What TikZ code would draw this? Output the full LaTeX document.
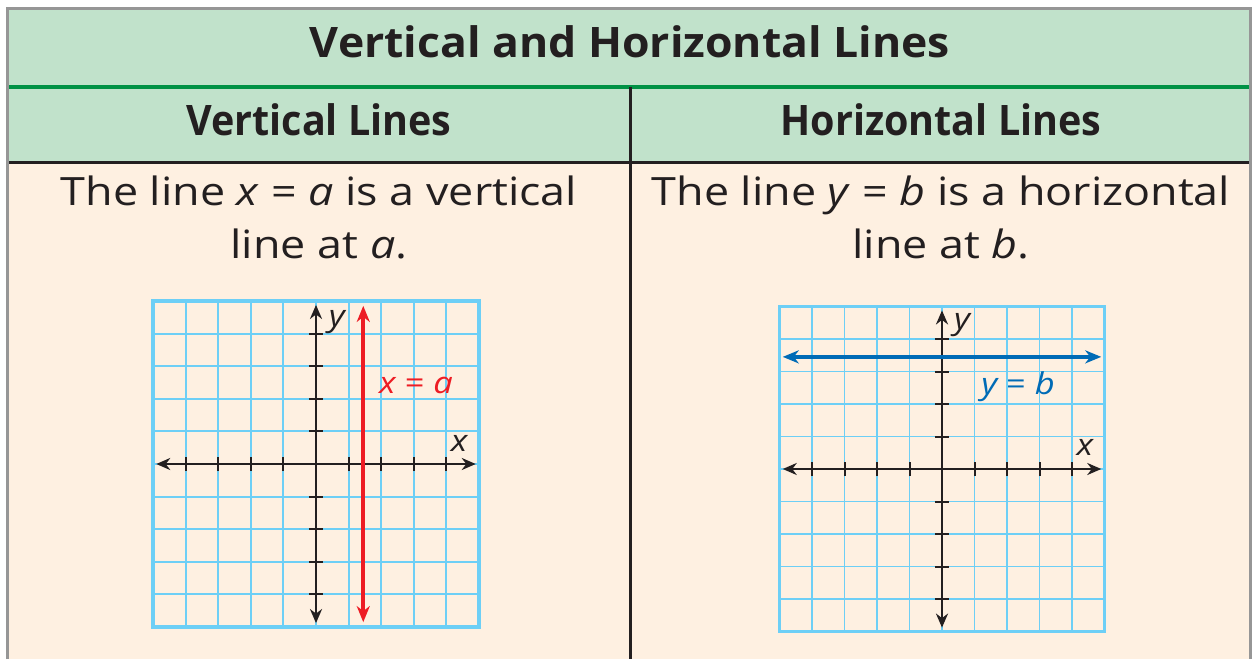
\documentclass[tikz,border=0pt]{standalone}
\usepackage{fontspec}
\setmainfont{Open Sans}
\newfontfamily\titlefont[FakeStretch=1.06]{Open Sans}
\newfontfamily\headfont[FakeStretch=0.94]{Open Sans}
\newfontfamily\bodyfont[FakeStretch=1.15]{Open Sans}
\usetikzlibrary{arrows.meta}
\definecolor{hdrgreen}{RGB}{193,226,203}
\definecolor{rulegreen}{RGB}{0,146,69}
\definecolor{bodybeige}{RGB}{254,240,225}
\definecolor{gridblue}{RGB}{109,207,246}
\definecolor{linered}{RGB}{237,28,36}
\definecolor{lineblue}{RGB}{0,107,182}
\definecolor{framegray}{RGB}{150,150,150}
\definecolor{inkblack}{RGB}{35,31,32}
\begin{document}
\begin{tikzpicture}[x=1pt, y=-1pt]
  \tikzstyle{title} = [font=\titlefont\fontsize{42}{48}\selectfont\bfseries, text=inkblack, inner sep=0pt]
  \tikzstyle{head} = [font=\headfont\fontsize{42}{48}\selectfont\bfseries, text=inkblack, inner sep=0pt]
  \tikzstyle{body} = [font=\bodyfont\fontsize{39}{53}\selectfont, text=inkblack, align=center, inner sep=0pt]
  \tikzstyle{lbl} = [font=\bodyfont\fontsize{30}{30}\selectfont\itshape, inner sep=0pt]
  \tikzstyle{gridline} = [draw=gridblue, line width=1.9pt]
  \tikzstyle{gridframe} = [draw=gridblue, line width=3.5pt]
  \tikzstyle{axis} = [draw=inkblack, line width=2.6pt, {Stealth[length=14pt, width=12pt, inset=4.5pt]}-{Stealth[length=14pt, width=12pt, inset=4.5pt]}]
  \tikzstyle{tick} = [draw=inkblack, line width=2pt]
  \tikzstyle{graph} = [line width=3.8pt, {Stealth[length=16pt, width=13pt, inset=5pt]}-{Stealth[length=16pt, width=13pt, inset=5pt]}]
  \useasboundingbox (0,0) rectangle (1258,659);
  \fill[white] (0,0) rectangle (1258,659);
  % table
  \fill[bodybeige] (7,162) rectangle (1250,659);
  \fill[hdrgreen] (7,8) rectangle (1250,162);
  \draw[rulegreen, line width=3.5pt] (7,87) -- (1250,87);
  \draw[inkblack, line width=3pt] (7,162) -- (1250,162);
  \draw[inkblack, line width=3pt] (630,87) -- (630,659);
  \draw[framegray, line width=3pt] (7,659) -- (7,8) -- (1250,8) -- (1250,659);
  \node[title] (ttl) at (630,42) {Vertical and Horizontal Lines};
  \node[head] (vhead) at (319,120) {Vertical Lines};
  \node[head] (hhead) at (941,120) {Horizontal Lines};
  \node[body] (vtext) at (319,217) {The line \textit{x} = \textit{a} is a vertical\\line at \textit{a}.};
  \node[body] (htext) at (941,217) {The line \textit{y} = \textit{b} is a horizontal\\line at \textit{b}.};
  % vertical line graph
  \begin{scope}[shift={(316,464)}, x=32.6pt, y=32.6pt]
    \draw[gridline, step=32.6pt] (-5,-5) grid (5,5);
    \draw[gridframe] (-5,-5) rectangle (5,5);
    \coordinate (vxl) at (-4.9,0);
    \coordinate (vxr) at (4.9,0);
    \coordinate (vyb) at (0,-4.88);
    \coordinate (vyt) at (0,4.88);
    \draw[axis] (vxl) -- (vxr);
    \draw[axis] (vyb) -- (vyt);
    \foreach \i in {-4,-3,-2,-1,1,2,3,4} {
      \draw[tick] (\i,-0.22) -- (\i,0.22);
      \draw[tick] (-0.22,\i) -- (0.22,\i);
    }
    \coordinate (vlb) at (1.45,-4.85);
    \coordinate (vlt) at (1.45,4.85);
    \draw[graph, linered] (vlb) -- (vlt);
    \node[lbl, text=inkblack] (vx) at (4.39,0.64) {x};
    \node[lbl, text=inkblack] (vy) at (0.64,4.36) {y};
    \node[lbl, text=linered] (veq) at (3.07,2.42) {x \upshape= \itshape a};
  \end{scope}
  % horizontal line graph
  \begin{scope}[shift={(942,469)}, x=32.5pt, y=32.5pt]
    \draw[gridline, step=32.5pt] (-5,-5) grid (5,5);
    \draw[gridframe] (-5,-5) rectangle (5,5);
    \coordinate (hxl) at (-4.9,0);
    \coordinate (hxr) at (4.9,0);
    \coordinate (hyb) at (0,-4.88);
    \coordinate (hyt) at (0,4.88);
    \draw[axis] (hxl) -- (hxr);
    \draw[axis] (hyb) -- (hyt);
    \foreach \i in {-4,-3,-2,-1,1,2,3,4} {
      \draw[tick] (\i,-0.22) -- (\i,0.22);
      \draw[tick] (-0.22,\i) -- (0.22,\i);
    }
    \coordinate (hll) at (-4.9,3.45);
    \coordinate (hlr) at (4.9,3.45);
    \draw[graph, lineblue] (hll) -- (hlr);
    \node[lbl, text=inkblack] (hx) at (4.4,0.65) {x};
    \node[lbl, text=inkblack] (hy) at (0.62,4.43) {y};
    \node[lbl, text=lineblue] (heq) at (2.34,2.52) {y \upshape= \itshape b};
  \end{scope}
\end{tikzpicture}
\end{document}
